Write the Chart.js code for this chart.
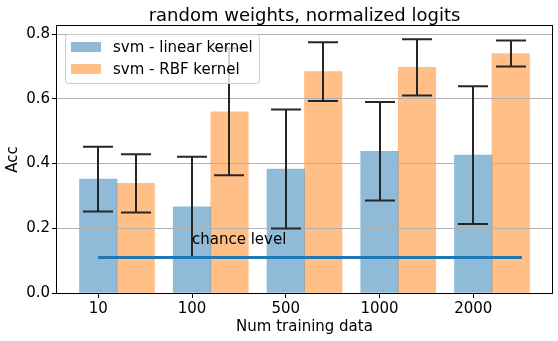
<!DOCTYPE html>
<html>
<head>
<meta charset="utf-8">
<script src="https://cdn.jsdelivr.net/npm/chart.js@4/dist/chart.umd.min.js"></script>
<style>
  html, body { margin: 0; padding: 0; background: #fff; }
  #wrap { width: 558px; height: 341px; }
</style>
</head>
<body>
<div id="wrap"><canvas id="accChart"></canvas></div>
<script>
// Accuracy per training set size
const categories = ['10', '100', '500', '1000', '2000'];
const linearAcc = [0.352, 0.266, 0.383, 0.438, 0.426];
const linearErr = [0.100, 0.155, 0.184, 0.152, 0.213];
const rbfAcc = [0.339, 0.560, 0.684, 0.697, 0.740];
const rbfErr = [0.090, 0.196, 0.091, 0.087, 0.040];
const yTicks = [0, 0.2, 0.4, 0.6, 0.8];
const chanceX = [0, 4.52];
const chanceY = [0.11, 0.11];
const chanceLabel = 'chance level';

const barShift = 0.4; // second bar sits one bar-width to the right

Chart.defaults.font.family = 'DejaVu Sans';
Chart.defaults.font.size = 15;
Chart.defaults.color = '#000';

// error bars, chance line on top, text, frame and legend
const overlayPlugin = {
    id: 'overlay',
    afterDraw(chart) {
        const ctx = chart.ctx;
        const area = chart.chartArea;
        const yScale = chart.scales.y;
        const xScale = chart.scales.x;

        // error bars
        const errSets = [[linearAcc, linearErr], [rbfAcc, rbfErr]];
        ctx.save();
        ctx.strokeStyle = '#262626';
        ctx.lineWidth = 2;
        errSets.forEach((pair, di) => {
            const meta = chart.getDatasetMeta(di);
            meta.data.forEach((bar, j) => {
                const x = Math.round(bar.x);
                const top = yScale.getPixelForValue(pair[0][j] + pair[1][j]);
                const bot = yScale.getPixelForValue(pair[0][j] - pair[1][j]);
                ctx.beginPath();
                ctx.moveTo(x, top);
                ctx.lineTo(x, bot);
                ctx.moveTo(x - 15, top);
                ctx.lineTo(x + 15, top);
                ctx.moveTo(x - 15, bot);
                ctx.lineTo(x + 15, bot);
                ctx.stroke();
            });
        });
        ctx.restore();

        // chance line goes over the error bars
        chart.getDatasetMeta(2).controller.draw();

        ctx.save();
        ctx.fillStyle = '#000';
        ctx.font = '15px "DejaVu Sans"';
        ctx.textBaseline = 'alphabetic';
        ctx.textAlign = 'left';
        ctx.fillText(chanceLabel, xScale.getPixelForValue(1), yScale.getPixelForValue(0.15));

        // frame
        ctx.strokeStyle = '#000';
        ctx.lineWidth = 1;
        ctx.strokeRect(area.left - 0.5, area.top - 0.5, area.right - area.left + 1, area.bottom - area.top + 1);

        // legend box, upper left
        const lx = area.left + 8, ly = area.top + 8, lw = 194, lh = 49;
        ctx.beginPath();
        ctx.roundRect(lx + 0.5, ly + 0.5, lw, lh, 3);
        ctx.fillStyle = 'rgba(255,255,255,0.8)';
        ctx.fill();
        ctx.strokeStyle = '#cccccc';
        ctx.stroke();
        [0, 1].forEach(i => {
            const ds = chart.data.datasets[i];
            const cy = ly + 13 + i * 22;
            ctx.fillStyle = ds.backgroundColor;
            ctx.fillRect(lx + 6, cy - 5, 30, 10);
            ctx.fillStyle = '#000';
            ctx.textBaseline = 'middle';
            ctx.fillText(ds.label, lx + 48, cy + 1);
        });
        ctx.restore();
    }
};

new Chart(document.getElementById('accChart'), {
    type: 'bar',
    data: {
        datasets: [
            {
                label: 'svm - linear kernel',
                data: categories.map((c, i) => ({ x: i, y: linearAcc[i] })),
                backgroundColor: 'rgba(31, 119, 180, 0.5)',
                borderWidth: 0,
                grouped: false,
                barPercentage: 1,
                categoryPercentage: 1,
                order: 1
            },
            {
                label: 'svm - RBF kernel',
                data: categories.map((c, i) => ({ x: i + barShift, y: rbfAcc[i] })),
                backgroundColor: 'rgba(255, 127, 14, 0.5)',
                borderWidth: 0,
                grouped: false,
                barPercentage: 1,
                categoryPercentage: 1,
                order: 1
            },
            {
                type: 'line',
                label: chanceLabel,
                data: chanceX.map((x, i) => ({ x: x, y: chanceY[i] })),
                borderColor: '#1f77b4',
                borderWidth: 3,
                pointRadius: 0,
                fill: false,
                order: 0
            }
        ]
    },
    options: {
        responsive: true,
        maintainAspectRatio: false,
        animation: false,
        events: [],
        layout: {
            padding: { left: 0, right: 6, top: 0, bottom: 0 }
        },
        plugins: {
            legend: { display: false },
            tooltip: { enabled: false },
            title: {
                display: true,
                fullSize: false,
                text: 'random weights, normalized logits',
                color: '#000',
                font: { size: 18, weight: 'normal' },
                padding: { top: 5.5, bottom: -1.1 }
            }
        },
        scales: {
            x: {
                type: 'linear',
                min: -0.44,
                max: 4.84,
                offset: false,
                afterBuildTicks: function(scale) {
                    scale.ticks = categories.map((c, i) => ({ value: i }));
                },
                afterFit: function(scale) {
                    scale.height = 48;
                },
                ticks: {
                    padding: 2,
                    maxRotation: 0,
                    autoSkip: false,
                    callback: function(value) {
                        return categories[value];
                    }
                },
                grid: {
                    offset: false,
                    drawOnChartArea: false,
                    tickLength: 5,
                    tickColor: '#000'
                },
                border: { display: false },
                title: {
                    display: true,
                    text: 'Num training data',
                    padding: { top: 0, bottom: 5 }
                }
            },
            y: {
                min: 0,
                max: 0.825,
                afterBuildTicks: function(scale) {
                    scale.ticks = yTicks.map(v => ({ value: v }));
                },
                afterFit: function(scale) {
                    scale.width = 57;
                },
                ticks: {
                    padding: 2,
                    callback: function(value) {
                        return value.toFixed(1);
                    }
                },
                grid: {
                    color: '#b0b0b0',
                    tickColor: '#000',
                    tickLength: 5,
                    z: 1
                },
                border: { display: false },
                title: {
                    display: true,
                    text: 'Acc',
                    padding: { top: 4, bottom: 0 }
                }
            }
        }
    },
    plugins: [overlayPlugin]
});
</script>
</body>
</html>
